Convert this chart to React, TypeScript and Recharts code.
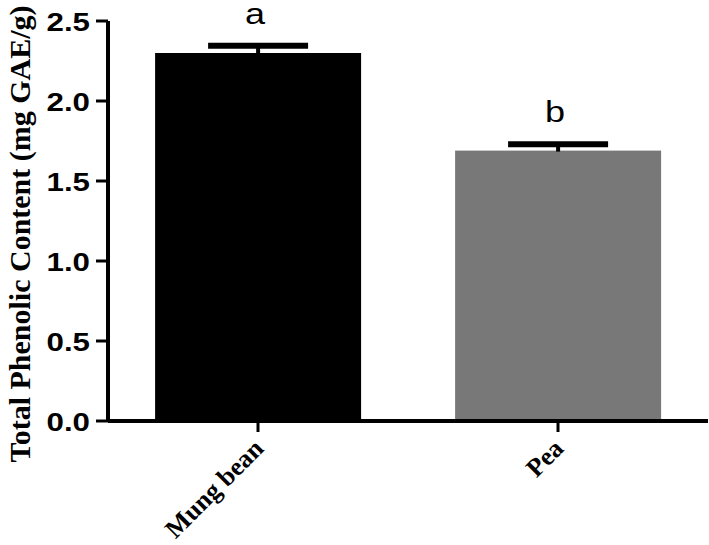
import { BarChart, Bar, XAxis, YAxis, Label } from "recharts";

const categories = ["Mung bean", "Pea"];
const meanValues = [2.3, 1.69];
const sdValues = [0.045, 0.04];
const letters = ["a", "b"];
const yTicks = [0, 0.5, 1.0, 1.5, 2.0, 2.5];

const barColors = ["#000000", "#787878"];

const data = categories.map((name, i) => ({
  name,
  value: meanValues[i],
  sd: sdValues[i],
  letter: letters[i],
}));

const sans = "'Liberation Sans', Arial, sans-serif";
const serif = "'Liberation Serif', 'Times New Roman', serif";

// bar + upward-only error bar + significance letter
function BarWithError(props: any) {
  const { x, y, width, height, payload, index } = props;
  const pxPerUnit = height / payload.value;
  const errTop = y - payload.sd * pxPerUnit;
  const cx = x + width / 2;
  return (
    <g>
      <rect x={x} y={y} width={width} height={height} fill={barColors[index]} />
      <line x1={cx} x2={cx} y1={y + 1} y2={errTop} stroke="#000" strokeWidth={4} />
      <line x1={cx - 50} x2={cx + 50} y1={errTop} y2={errTop} stroke="#000" strokeWidth={6} />
      <text
        transform={`translate(${cx - 3},${errTop - 22}) scale(1.2,1)`}
        textAnchor="middle"
        fontFamily={sans}
        fontSize={30}
        fill="#000"
      >
        {payload.letter}
      </text>
    </g>
  );
}

function YTick({ x, y, payload }: any) {
  return (
    <text
      transform={`translate(${x},${y}) scale(1.25,1)`}
      textAnchor="end"
      dy={10}
      fontFamily={sans}
      fontWeight="bold"
      fontSize={25}
      fill="#000"
    >
      {Number(payload.value).toFixed(1)}
    </text>
  );
}

function XTick({ x, y, payload }: any) {
  const tx = x + 7;
  const ty = y + 16;
  return (
    <text
      x={tx}
      y={ty}
      transform={`rotate(-45, ${tx}, ${ty})`}
      textAnchor="end"
      fontFamily={serif}
      fontWeight="bold"
      fontSize={26}
      fill="#000"
    >
      {payload.value}
    </text>
  );
}

export default function App() {
  return (
    <div style={{ position: "absolute", left: 0, top: 0, background: "#fff" }}>
      <BarChart
        width={709}
        height={545}
        data={data}
        margin={{ top: 21, right: 1, bottom: 0, left: 0 }}
        barCategoryGap="15.7%"
      >
        <XAxis
          dataKey="name"
          height={124}
          axisLine={{ stroke: "#000", strokeWidth: 4 }}
          tickLine={{ stroke: "#000", strokeWidth: 3 }}
          tickSize={11}
          tick={<XTick />}
          interval={0}
        />
        <YAxis
          width={108}
          domain={[0, 2.5]}
          ticks={yTicks}
          axisLine={{ stroke: "#000", strokeWidth: 4 }}
          tickLine={{ stroke: "#000", strokeWidth: 3 }}
          tickSize={12}
          tickMargin={6}
          tick={<YTick />}
        >
          <Label
            content={() => (
              <text
                transform="translate(30,234) rotate(-90)"
                textAnchor="middle"
                fontFamily={serif}
                fontWeight="bold"
                fontSize={30}
                fill="#000"
              >
                Total Phenolic Content (mg GAE/g)
              </text>
            )}
          />
        </YAxis>
        <Bar dataKey="value" shape={<BarWithError />} isAnimationActive={false} />
      </BarChart>
    </div>
  );
}
